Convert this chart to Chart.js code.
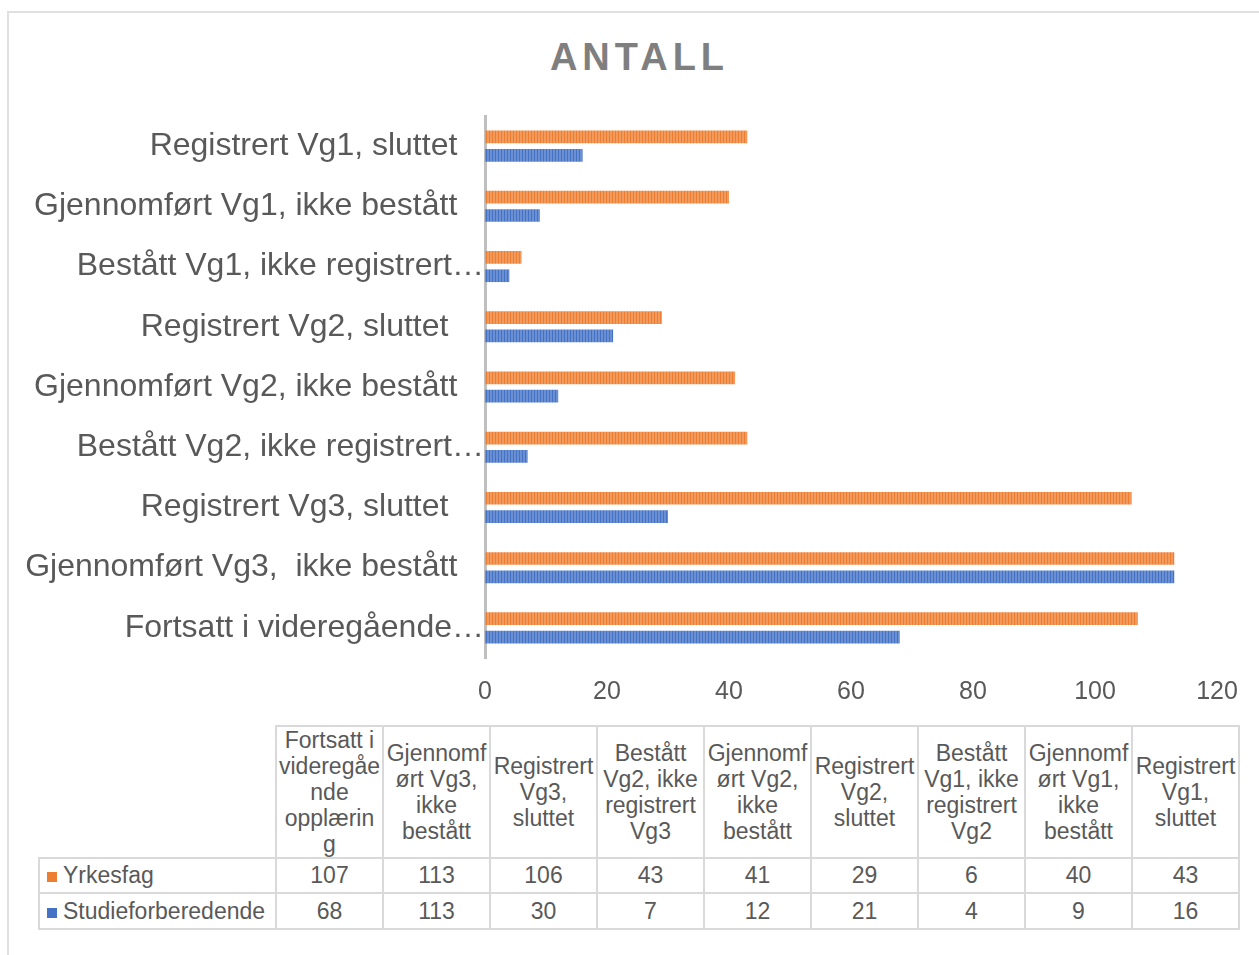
<!DOCTYPE html>
<html>
<head>
<meta charset="utf-8">
<script src="https://cdn.jsdelivr.net/npm/chart.js@4.4.1/dist/chart.umd.min.js"></script>
<style>
  body { margin: 0; background: #fff; font-family: "Liberation Sans", Arial, sans-serif; }
  #frame { position: absolute; left: 7px; top: 11px; width: 1270px; height: 970px;
           border-left: 2px solid #e0e0e0; border-top: 2px solid #e0e0e0; }
  #title { position: absolute; left: 0; top: 38px; width: 1274px; text-align: center;
           font-weight: bold; font-size: 38px; line-height: 38px; letter-spacing: 5px;
           padding-left: 5px; box-sizing: border-box; color: #7f7f7f; }
  #chart { position: absolute; left: 0; top: 0; }
  #table { position: absolute; left: 38px; top: 725px; border-collapse: collapse;
           table-layout: fixed; width: 1200px; font-size: 23px; color: #595959; }
  #table td { border: 2px solid #d9d9d9; text-align: center; padding: 0; white-space: nowrap; }
  #table tr.head td { line-height: 26px; }
  #table td.corner { border-top: none; border-left: none; }
  #table td.name { text-align: left; padding-left: 7px; }
  .key { display: inline-block; width: 10px; height: 10px; margin-right: 6px; vertical-align: 1px; }
</style>
</head>
<body>
<div id="frame"></div>
<div id="title">ANTALL</div>
<canvas id="chart" width="1259" height="718"></canvas>
<table id="table"></table>

<script>
// data, in the order of the table (Excel draws it bottom to top)
const categories = [
    "Fortsatt i videregående opplæring",
    "Gjennomført Vg3,  ikke bestått",
    "Registrert Vg3, sluttet ",
    "Bestått Vg2, ikke registrert Vg3",
    "Gjennomført Vg2, ikke bestått",
    "Registrert Vg2, sluttet ",
    "Bestått Vg1, ikke registrert Vg2",
    "Gjennomført Vg1, ikke bestått",
    "Registrert Vg1, sluttet"
];
const seriesNames = ["Yrkesfag", "Studieforberedende"];
const yrkesfag = [107, 113, 106, 43, 41, 29, 6, 40, 43];
const studieforberedende = [68, 113, 30, 7, 12, 21, 4, 9, 16];
const xTicks = [0, 20, 40, 60, 80, 100, 120];

const orange = '#ED7D31';
const blue = '#4472C4';
const textColor = '#595959';

// bars have a fine vertical stripe fill
function stripes(base, light) {
    const c = document.createElement('canvas');
    c.width = 3; c.height = 1;
    const g = c.getContext('2d');
    g.fillStyle = light; g.fillRect(0, 0, 3, 1);
    g.fillStyle = base; g.fillRect(0, 0, 1, 1);
    return g.createPattern(c, 'repeat');
}

// long axis labels get cut at a word and end with an ellipsis that reaches the axis,
// the others keep a gap of about three spaces
const measure = document.createElement('canvas').getContext('2d');
function fitLabel(text) {
    measure.font = '32px "Liberation Sans"';
    if (measure.measureText(text).width <= 436) return text + '   ';
    const words = text.split(' ');
    while (words.length > 1 && measure.measureText(words.join(' ') + '…').width > 436) words.pop();
    return words.join(' ') + '…';
}

// wrap the table headers the way Excel does: by word, breaking words that do not fit
function wrapText(text, maxW) {
    measure.font = '23px "Liberation Sans"';
    const fits = s => measure.measureText(s).width <= maxW;
    const lines = [];
    let line = '';
    for (const word of text.trim().split(/\s+/)) {
        const tryLine = line ? line + ' ' + word : word;
        if (fits(tryLine)) { line = tryLine; continue; }
        if (line) lines.push(line);
        line = '';
        let rest = word;
        while (!fits(rest)) {
            let n = rest.length - 1;
            while (n > 1 && !fits(rest.slice(0, n))) n--;
            lines.push(rest.slice(0, n));
            rest = rest.slice(n);
        }
        line = rest;
    }
    if (line) lines.push(line);
    return lines;
}

// chart lists categories top to bottom
const chartLabels = categories.slice().reverse();

new Chart(document.getElementById('chart'), {
    type: 'bar',
    data: {
        labels: chartLabels,
        datasets: [
            {
                label: seriesNames[0],
                data: yrkesfag.slice().reverse(),
                backgroundColor: stripes(orange, '#F29A5C'),
                categoryPercentage: 0.61,
                barPercentage: 0.69
            },
            {
                label: seriesNames[1],
                data: studieforberedende.slice().reverse(),
                backgroundColor: stripes(blue, '#6A8FD3'),
                categoryPercentage: 0.61,
                barPercentage: 0.69
            }
        ]
    },
    options: {
        indexAxis: 'y',
        responsive: false,
        animation: false,
        devicePixelRatio: 1,
        layout: { padding: { top: 116, right: 42, bottom: 0, left: 0 } },
        plugins: {
            legend: { display: false },
            tooltip: { enabled: false }
        },
        scales: {
            x: {
                min: xTicks[0],
                max: xTicks[xTicks.length - 1],
                afterBuildTicks: scale => { scale.ticks = xTicks.map(v => ({ value: v })); },
                grid: { display: false, drawTicks: false },
                border: { display: false },
                ticks: { color: textColor, padding: 19, font: { family: 'Liberation Sans', size: 25 } },
                afterFit: scale => { scale.height = 60; }
            },
            y: {
                grid: { display: false, drawTicks: false },
                border: { display: true, color: '#bfbfbf', width: 3 },
                ticks: {
                    color: textColor,
                    padding: 1,
                    font: { family: 'Liberation Sans', size: 32 },
                    callback: function (value) { return fitLabel(this.getLabelForValue(value)); }
                },
                afterFit: scale => { scale.width = 485; }
            }
        }
    }
});

// data table under the chart
const table = document.getElementById('table');
let html = '<colgroup><col style="width:237px">' + categories.map(() => '<col style="width:107px">').join('') + '</colgroup>';
html += '<tr class="head" style="height:130px"><td class="corner"></td>' +
    categories.map(c => '<td>' + wrapText(c, 101.7).join('<br>') + '</td>').join('') + '</tr>';
[[yrkesfag, orange], [studieforberedende, blue]].forEach(([vals, col], i) => {
    html += '<tr style="height:' + (i ? 36 : 35) + 'px"><td class="name"><span class="key" style="background:' + col + '"></span>' +
        seriesNames[i] + '</td>' + vals.map(v => '<td>' + v + '</td>').join('') + '</tr>';
});
table.innerHTML = html;
</script>
</body>
</html>
